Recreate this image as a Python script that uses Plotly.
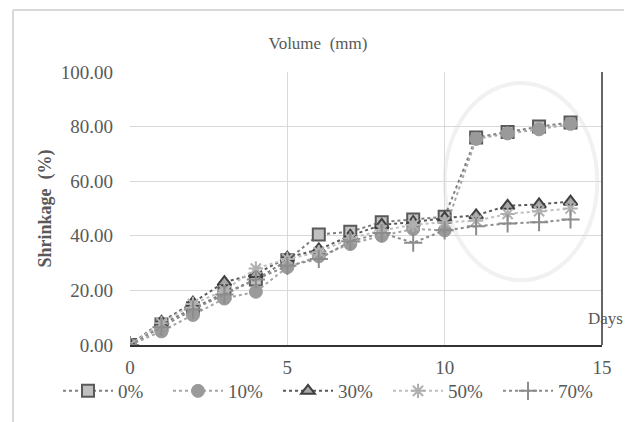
import plotly.graph_objects as go

days = list(range(15))
labels = ["0%", "10%", "30%", "50%", "70%"]
s0 = [0, 7.5, 13.5, 19, 24, 31, 40.5, 41.5, 45, 46, 47, 76, 78, 80, 81.5]
s10 = [0, 5, 11, 17, 19.5, 28.5, 32.5, 37, 40, 42.5, 42, 75.5, 77.5, 79, 81]
s30 = [0, 8.5, 15.5, 23, 26, 32, 35, 40, 44, 45, 46.5, 47.5, 51, 51.5, 52.5]
s50 = [0, 8, 15, 20, 28, 31.5, 34, 39, 42, 44, 45, 45.5, 48, 49, 50]
s70 = [0, 6.5, 13, 18.5, 24, 29, 31.5, 38, 41, 37.5, 42, 43.5, 44.5, 45, 46]
series = [s0, s10, s30, s50, s70]

styles = [
    dict(line=dict(color="#7f7f7f", width=2, dash="dot"),
         marker=dict(symbol="square", size=12, color="#c0c0c0", line=dict(color="#595959", width=2))),
    dict(line=dict(color="#a6a6a6", width=2, dash="dot"),
         marker=dict(symbol="circle", size=13, color="#9a9a9a", line=dict(color="#9a9a9a", width=1))),
    dict(line=dict(color="#595959", width=2, dash="dot"),
         marker=dict(symbol="triangle-up", size=12, color="#a6a6a6", line=dict(color="#404040", width=2))),
    dict(line=dict(color="#bfbfbf", width=2, dash="dot"),
         marker=dict(symbol="asterisk-open", size=12, color="#b0b0b0", line=dict(color="#b0b0b0", width=2))),
    dict(line=dict(color="#8c8c8c", width=2, dash="dot"),
         marker=dict(symbol="cross-thin-open", size=13, color="#8c8c8c", line=dict(color="#8c8c8c", width=2))),
]

# page body has an 8px margin, so the figure is laid out 8px smaller and shifted
W, H, OFF = 624, 414, 8
L, T, R, B = 130 - OFF, 72 - OFF, 602 - OFF, 345 - OFF  # plot area in figure px
PW, PH = R - L, B - T

def px(xp):
    return (xp - OFF - L) / PW

def py(yp):
    return (B - (yp - OFF)) / PH

font = "Liberation Serif, Times New Roman, serif"
fig = go.Figure()
for name, vals, st in zip(labels, series, styles):
    fig.add_trace(go.Scatter(x=days, y=vals, name=name, mode="lines+markers", **st))

fig.update_layout(
    width=W, height=H,
    margin=dict(l=L, r=W - R, t=T, b=H - B, autoexpand=False),
    paper_bgcolor="white", plot_bgcolor="white",
    font=dict(family=font, size=19, color="#595959"),
    title=dict(text="Volume  (mm)", x=(318 - OFF) / W, xanchor="center",
               y=1 - (43 - OFF) / H, yanchor="middle",
               font=dict(family=font, size=17, color="#595959")),
    showlegend=True,
    legend=dict(orientation="h", x=px(58), xanchor="left", y=py(372), yanchor="top",
                font=dict(family=font, size=19, color="#595959"),
                itemwidth=50, entrywidth=45, entrywidthmode="pixels",
                bgcolor="rgba(0,0,0,0)"),
    xaxis=dict(range=[0, 15], dtick=5, showgrid=True, gridcolor="#d9d9d9", gridwidth=1,
               zeroline=False, showline=True, linecolor="#333333", linewidth=1.5,
               ticks="", ticklabelstandoff=4, tickfont=dict(size=19, color="#595959")),
    yaxis=dict(range=[0, 100], dtick=20, tickformat=".2f", showgrid=True, gridcolor="#d9d9d9",
               gridwidth=1, zeroline=False, showline=False, ticks="", ticklabelstandoff=16,
               tickfont=dict(size=19, color="#595959")),
    shapes=[
        dict(type="line", xref="paper", yref="paper", x0=1, x1=1, y0=0, y1=1,
             line=dict(color="#333333", width=1.5)),
        dict(type="line", xref="paper", yref="paper", x0=px(13), x1=px(13),
             y0=py(10), y1=py(440), line=dict(color="#d9d9d9", width=2)),
        dict(type="line", xref="paper", yref="paper", x0=px(13), x1=px(650),
             y0=py(10), y1=py(10), line=dict(color="#d9d9d9", width=2)),
        dict(type="circle", xref="x", yref="y", x0=10.0, x1=14.85, y0=23.7, y1=96,
             line=dict(color="#f1f1f1", width=4), layer="below"),
    ],
    annotations=[
        dict(text="Days", xref="paper", yref="paper", x=px(605), y=py(318),
             showarrow=False, xanchor="center", yanchor="middle",
             font=dict(family=font, size=17, color="#595959")),
        dict(text="<b>Shrinkage  (%)</b>", xref="paper", yref="paper", x=px(45),
             y=0.5, textangle=-90, showarrow=False, xanchor="center", yanchor="middle",
             font=dict(family=font, size=18, color="#595959")),
    ],
)

fig.write_html("out.html")
